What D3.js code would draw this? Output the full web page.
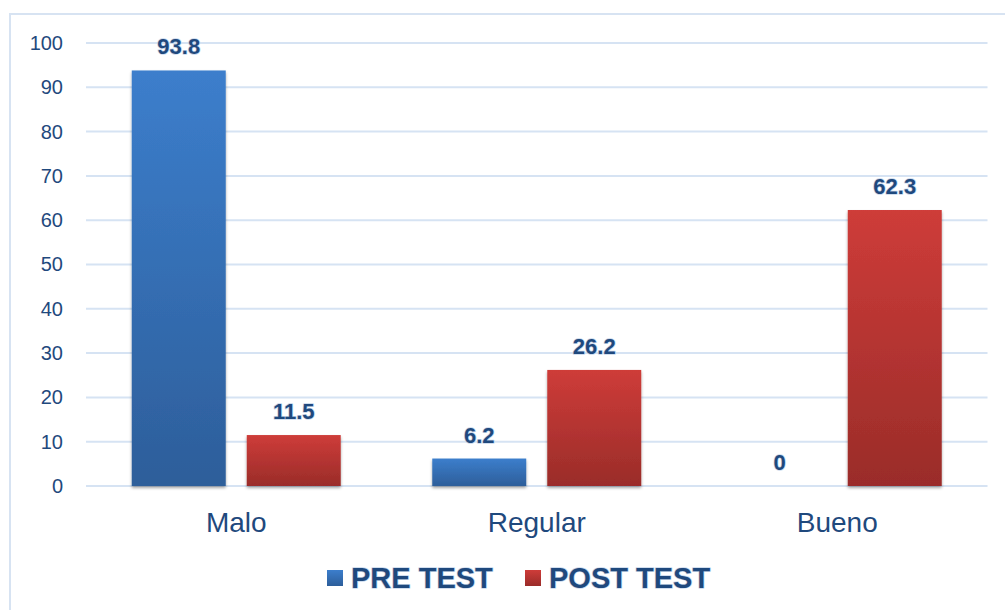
<!DOCTYPE html>
<html>
<head>
<meta charset="utf-8">
<script src="https://cdn.jsdelivr.net/npm/d3@7"></script>
<style>
	body { margin: 0; background: #fff; }
	svg { display: block; font-family: "Liberation Sans", Arial, sans-serif; }
	.halo { paint-order: stroke; stroke: #c9d8ec; stroke-width: 1.5px; stroke-linejoin: round; }
</style>
</head>
<body>
<script>
var categories = ['Malo', 'Regular', 'Bueno'];
var series = ['PRE TEST', 'POST TEST'];
var preTest = [93.8, 6.2, 0];
var postTest = [11.5, 26.2, 62.3];
var yTicks = [0, 10, 20, 30, 40, 50, 60, 70, 80, 90, 100];

var width = 1005,
	height = 610;
var textColor = '#1f497d';

var svg = d3.select('body').append('svg')
	.attr('width', width)
	.attr('height', height);

var defs = svg.append('defs');
function grad(id, top, bottom){
	var g = defs.append('linearGradient')
		.attr('id', id)
		.attr('x1', 0).attr('y1', 0).attr('x2', 0).attr('y2', 1);
	g.append('stop').attr('offset', '0%').attr('stop-color', top);
	g.append('stop').attr('offset', '100%').attr('stop-color', bottom);
}
grad('gPre', '#3c7ecc', '#2d5e9a');
grad('gPost', '#ce3c39', '#9a2c29');
var f = defs.append('filter').attr('id', 'shadow')
	.attr('x', '-10%').attr('y', '-10%').attr('width', '120%').attr('height', '130%');
f.append('feDropShadow').attr('dx', 0).attr('dy', 2).attr('stdDeviation', 1.5)
	.attr('flood-color', '#000').attr('flood-opacity', 0.35);

// chart frame
svg.append('rect')
	.attr('x', 10).attr('y', 14)
	.attr('width', 1010).attr('height', 620)
	.attr('fill', 'none')
	.attr('stroke', '#d7e3f2')
	.attr('stroke-width', 2);

var x0 = d3.scaleBand()
	.domain(categories)
	.range([86, 987.5])
	.paddingInner(0)
	.paddingOuter(0);

var x1 = d3.scaleBand()
	.domain(series)
	.range([0, x0.bandwidth()])
	.paddingInner(0.183)
	.paddingOuter(0.398);

var y = d3.scaleLinear()
	.domain([0, 100])
	.range([486, 43]);

// gridlines
svg.append('g')
	.selectAll('line')
	.data(yTicks)
	.enter()
	.append('line')
	.attr('x1', 86).attr('x2', 987.5)
	.attr('y1', function(d){ return y(d); })
	.attr('y2', function(d){ return y(d); })
	.attr('stroke', '#d6e3f3')
	.attr('stroke-width', 2);

// y axis labels
var yAxis = d3.axisLeft(y).tickValues(yTicks).tickSize(0).tickPadding(0);
var gy = svg.append('g')
	.attr('transform', 'translate(63,0)')
	.call(yAxis);
gy.select('.domain').remove();
gy.selectAll('text')
	.attr('fill', textColor)
	.style('font-size', '20px')
	.style('font-family', '"Liberation Sans", Arial, sans-serif');

// bars
var data = categories.map(function(c, i){
	return [
		{cat: c, key: series[0], value: preTest[i], fill: 'url(#gPre)'},
		{cat: c, key: series[1], value: postTest[i], fill: 'url(#gPost)'}
	];
});

var groups = svg.append('g')
	.selectAll('g')
	.data(data)
	.enter()
	.append('g')
	.attr('transform', function(d){ return 'translate(' + x0(d[0].cat) + ',0)'; });

groups.selectAll('rect')
	.data(function(d){ return d; })
	.enter()
	.append('rect')
	.filter(function(d){ return d.value > 0; })
	.attr('x', function(d){ return x1(d.key); })
	.attr('y', function(d){ return y(d.value); })
	.attr('width', x1.bandwidth())
	.attr('height', function(d){ return y(0) - y(d.value); })
	.attr('fill', function(d){ return d.fill; })
	.attr('filter', 'url(#shadow)');

groups.selectAll('text.val')
	.data(function(d){ return d; })
	.enter()
	.append('text')
	.attr('class', 'val halo')
	.attr('x', function(d){ return x1(d.key) + x1.bandwidth() / 2; })
	.attr('y', function(d){ return y(d.value) - 16; })
	.attr('text-anchor', 'middle')
	.attr('fill', textColor)
	.style('font-size', '22px')
	.style('font-weight', 'bold')
	.text(function(d){ return d.value; });

// category labels
var xAxis = d3.axisBottom(x0).tickSize(0).tickPadding(0);
var gx = svg.append('g')
	.attr('transform', 'translate(0,532)')
	.call(xAxis);
gx.select('.domain').remove();
gx.selectAll('text')
	.attr('dy', 0)
	.attr('fill', textColor)
	.style('font-size', '28px')
	.style('font-family', '"Liberation Sans", Arial, sans-serif');

// legend
var legendX = [327, 525];
var legend = svg.append('g')
	.selectAll('g')
	.data(series)
	.enter()
	.append('g')
	.attr('transform', function(d, i){ return 'translate(' + legendX[i] + ',570)'; });
legend.append('rect')
	.attr('width', 16).attr('height', 16)
	.attr('fill', function(d, i){ return i == 0 ? 'url(#gPre)' : 'url(#gPost)'; });
legend.append('text')
	.attr('class', 'halo')
	.attr('x', 24)
	.attr('y', 18)
	.attr('fill', textColor)
	.style('font-size', '29px')
	.style('font-weight', 'bold')
	.text(function(d){ return d; });
</script>
</body>
</html>
